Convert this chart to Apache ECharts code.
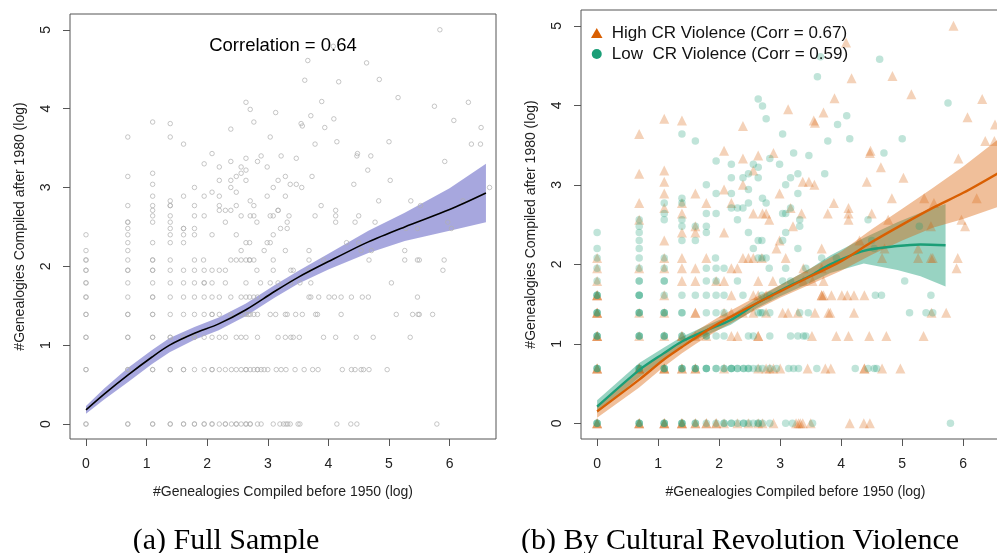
<!DOCTYPE html>
<html>
<head>
<meta charset="utf-8">
<script src="https://cdn.jsdelivr.net/npm/echarts@6/dist/echarts.min.js"></script>
<style>
html,body{margin:0;padding:0;background:#fff;}
#chart{width:997px;height:553px;}
</style>
</head>
<body>
<div id="chart"></div>
<script>
// ---------- tick labels ----------
const xTicks = [0, 1, 2, 3, 4, 5, 6];
const yTicks = [0, 1, 2, 3, 4, 5];

// ---------- scatter points [x, y, count] (log scale values) ----------
const highPts = [
[0,0,3],[0.69,0,3],[1.1,0,3],[1.39,0,3],[1.61,0,2],[1.79,0,2],[1.95,0,2],[2.08,0],[2.3,0],[2.48,0],[2.64,0],[2.71,0],[2.89,0],[3.26,0],[3.3,0],[3.33,0],[3.37,0],[3.5,0],[4.14,0],[4.37,0],[4.47,0],
[0,0.69,3],[0.69,0.69,3],[1.1,0.69,3],[1.39,0.69,2],[1.61,0.69,2],[2.08,0.69],[2.64,0.69],[2.77,0.69],[2.83,0.69],[2.89,0.69],[3.0,0.69],[3.45,0.69],[3.74,0.69],[3.83,0.69],[4.38,0.69,2],[4.67,0.69],[4.97,0.69],
[0,1.1,3],[0.69,1.1],[1.1,1.1],[1.39,1.1,2],[1.61,1.1],[1.79,1.1],[2.2,1.1],[2.3,1.1],[2.64,1.1,2],[3.52,1.1],[3.92,1.1],[4.12,1.1],[4.46,1.1],[4.74,1.1],[5.35,1.1],
[0,1.39,3],[0.69,1.39],[1.1,1.39],[1.61,1.39,2],[2.08,1.39],[2.2,1.39],[2.39,1.39],[2.56,1.39],[2.77,1.39],[3.04,1.39],[3.13,1.39],[3.29,1.39],[3.57,1.39],[3.79,1.39],[3.82,1.39],[4.21,1.39],[5.48,1.39],[5.72,1.39],
[0,1.61,3],[1.1,1.61],[2.2,1.61],[2.56,1.61],[2.64,1.61],[2.77,1.61],[3.68,1.61,2],[3.71,1.61],[3.84,1.61],[4.01,1.61],[4.1,1.61],[4.21,1.61],[4.38,1.61],
[0,1.79],[1.39,1.79],[1.61,1.79],[1.95,1.79],[2.08,1.79],[2.64,1.79],[2.88,1.79],[3.38,1.79],[3.53,1.79],[3.71,1.79],
[0,1.95],[0.69,1.95],[1.1,1.95],[1.39,1.95],[1.61,1.95],[2.2,1.95],[2.3,1.95],[3.38,1.95],[3.68,1.95],[5.89,1.95],
[0,2.08],[1.1,2.08],[1.39,2.08],[1.79,2.08],[2.39,2.08],[2.48,2.08],[2.56,2.08],[2.7,2.08],[3.09,2.08],[4.67,2.08],[5.26,2.08],[5.47,2.08],[5.5,2.08],[5.91,2.08],
[2.94,2.2],[3.68,2.2],[4.71,2.2],[5.26,2.2],
[1.1,2.3],[2.99,2.3],[4.3,2.3],
[1.39,2.4],[1.61,2.4],[2.08,2.4],
[1.61,2.48],[3.21,2.48],[5.47,2.48],[6.03,2.48],
[0.69,2.56],[2.82,2.56],[4.12,2.56],[4.77,2.56],[5.97,2.56],
[1.39,2.64],[2.56,2.64],[2.71,2.64],[2.77,2.64],[3.35,2.64],[3.78,2.64],[4.12,2.64],[4.5,2.64],
[1.1,2.71],[3.17,2.71],[4.12,2.71],
[0.69,2.77],[1.39,2.77],[1.79,2.77],[2.2,2.77],[3.88,2.77],[5.52,2.77],
[4.83,2.83],[5.36,2.83],[6.22,2.83],
[1.1,2.89],[1.61,2.89],[2.99,2.89],
[2.08,2.94],[2.39,3.0],[3.56,3.0],[6.66,3.0],[1.1,3.04],[3.37,3.04],[3.47,3.04],[4.42,3.04],[5.02,3.09],[0.69,3.14],[1.1,3.18],[2.56,3.18],[4.65,3.22],[2.39,3.33],[5.92,3.33],[2.64,3.37],[2.89,3.4],[4.47,3.4],[2.08,3.43],[4.48,3.43],[6.36,3.55],[6.51,3.55],[0.69,3.64],[2.39,3.74],[6.52,3.76],[3.57,3.78],[1.39,3.81],[3.55,3.81],[1.1,3.83],[6.07,3.85],[3.71,3.91],[3.13,3.95],[6.31,4.08],[3.89,4.09],[5.15,4.14],[4.17,4.34],[4.84,4.37],[4.08,4.79],[5.84,5.0]
];
const lowPts = [
[0,0,3],[0.69,0,3],[1.1,0,3],[1.39,0,3],[1.61,0,2],[1.79,0],[1.95,0],[2.08,0,2],[2.2,0,2],[2.3,0],[2.4,0,2],[2.48,0],[2.56,0],[2.64,0,2],[2.71,0],[2.83,0],[3.09,0],[3.2,0],[3.53,0],[5.79,0],
[0,0.69,3],[0.69,0.69,3],[1.1,0.69,3],[1.39,0.69,3],[1.61,0.69,3],[1.79,0.69,3],[1.95,0.69,2],[2.08,0.69,2],[2.2,0.69,3],[2.3,0.69,2],[2.4,0.69,2],[2.48,0.69,2],[2.56,0.69],[2.64,0.69],[2.71,0.69],[2.83,0.69],[2.94,0.69],[3.14,0.69],[3.22,0.69],[3.3,0.69],[3.6,0.69],[4.23,0.69],[4.44,0.69],[4.54,0.69],[4.58,0.69],
[0,1.1,3],[0.69,1.1,3],[1.1,1.1,3],[1.39,1.1,2],[1.79,1.1,2],[1.95,1.1],[2.08,1.1],[2.48,1.1],[2.56,1.1],[2.83,1.1],[3.17,1.1],[3.29,1.1],[3.38,1.1],[3.42,1.1],
[0,1.39,3],[0.69,1.39,3],[1.1,1.39,3],[1.39,1.39,2],[1.79,1.39],[1.95,1.39],[2.08,1.39],[2.64,1.39],[2.68,1.39],[2.71,1.39],[2.83,1.39],[3.32,1.39],[3.46,1.39],[5.12,1.39],[5.39,1.39],[5.5,1.39],
[0,1.61,3],[0.69,1.61,3],[1.1,1.61],[1.39,1.61],[1.61,1.61],[1.79,1.61],[1.95,1.61],[2.08,1.61],[2.39,1.61],[2.7,1.61],[2.83,1.61],[4.56,1.61],[4.66,1.61],[5.47,1.61],
[0,1.79],[0.69,1.79,2],[1.1,1.79,2],[1.79,1.79],[1.95,1.79],[2.3,1.79],[3.04,1.79],[3.17,1.79],[5.04,1.79],
[0,1.95],[0.69,1.95],[1.1,1.95],[1.79,1.95],[1.95,1.95],[2.08,1.95],[2.82,1.95],[3.09,1.95],[3.42,1.95],
[0,2.08],[0.69,2.08],[1.1,2.08],[1.94,2.08],[2.64,2.08],[2.7,2.08],[2.77,2.08],[3.68,2.08],[3.92,2.08],
[0,2.2],[0.69,2.2],[2.56,2.2],[3.29,2.2],[4.54,2.2],
[0.69,2.3],[1.39,2.3],[1.61,2.3],[2.64,2.3],[2.7,2.3],[3.04,2.3],[4.5,2.3],
[0,2.4],[0.69,2.4],[1.79,2.4],[2.48,2.4],[3.09,2.4],
[0.69,2.48],[1.39,2.48],[1.61,2.48],[1.79,2.48],[3.32,2.48],[5.28,2.48],
[0.69,2.56],[1.1,2.56],[1.39,2.56],[2.3,2.56],[3.32,2.56],[4.44,2.56],
[1.1,2.64],[1.79,2.64],[1.95,2.64],[3.04,2.64],[3.09,2.64],
[2.2,2.71],[2.3,2.71],[2.39,2.71],[3.17,2.71],
[1.1,2.77],[1.39,2.77],[2.48,2.77],[2.77,2.77],
[1.39,2.83],[2.71,2.83],
[1.95,2.89],[2.2,2.89],[3.29,2.89],
[2.48,2.94],[1.79,3.0],[3.09,3.0],[2.2,3.09],[2.39,3.09],[2.64,3.09],[3.17,3.09],[2.48,3.14],[3.29,3.14],[3.73,3.14],[2.64,3.22],[2.2,3.26],[2.56,3.26],[2.99,3.26],[1.95,3.3],[2.83,3.33],[3.47,3.37],[3.22,3.4],[4.7,3.4],[1.61,3.55],[3.78,3.55],[4.14,3.58],[5.0,3.58],[1.39,3.64],[3.04,3.64],[3.94,3.76],[2.77,3.83],[4.09,3.87],[2.71,3.99],[5.75,4.03],[2.64,4.08],[3.61,4.36],[4.63,4.58],[3.66,4.61]
];

// ---------- smoothed fit (full sample) ----------
const fullX     = [0, 0.3, 0.69, 1.09, 1.38, 1.79, 2.19, 2.64, 3.11, 3.5, 4.0, 4.66, 5.26, 6.0, 6.6];
const fullFit   = [0.18, 0.38, 0.62, 0.85, 1.0, 1.15, 1.27, 1.45, 1.68, 1.86, 2.06, 2.31, 2.5, 2.72, 2.93];
const fullUpper = [0.23, 0.45, 0.71, 0.94, 1.09, 1.23, 1.35, 1.53, 1.76, 1.94, 2.16, 2.45, 2.68, 2.99, 3.3];
const fullLower = [0.13, 0.31, 0.53, 0.76, 0.91, 1.07, 1.19, 1.37, 1.6, 1.78, 1.96, 2.17, 2.32, 2.45, 2.56];

// ---------- smoothed fit (high CR violence) ----------
const highX     = [0, 0.69, 1.09, 1.39, 1.64, 2.0, 2.51, 3.0, 3.5, 4.0, 4.5, 5.0, 5.5, 6.0, 6.6];
const highFit   = [0.15, 0.55, 0.8, 0.96, 1.09, 1.26, 1.47, 1.66, 1.85, 2.04, 2.28, 2.5, 2.71, 2.9, 3.16];
const highUpper = [0.23, 0.65, 0.89, 1.04, 1.17, 1.34, 1.55, 1.74, 1.95, 2.16, 2.44, 2.7, 2.96, 3.23, 3.59];
const highLower = [0.07, 0.45, 0.71, 0.88, 1.01, 1.18, 1.39, 1.58, 1.75, 1.92, 2.12, 2.3, 2.46, 2.57, 2.73];

// ---------- smoothed fit (low CR violence) ----------
const lowX      = [0, 0.69, 1.09, 1.39, 1.79, 2.19, 2.62, 3.0, 3.5, 3.82, 4.37, 4.92, 5.3, 5.71];
const lowFit    = [0.21, 0.67, 0.88, 1.03, 1.17, 1.3, 1.51, 1.67, 1.86, 2.0, 2.17, 2.23, 2.25, 2.24];
const lowUpper  = [0.29, 0.76, 0.95, 1.09, 1.23, 1.36, 1.57, 1.74, 1.95, 2.11, 2.33, 2.53, 2.65, 2.76];
const lowLower  = [0.13, 0.58, 0.81, 0.97, 1.11, 1.24, 1.45, 1.6, 1.77, 1.89, 2.01, 1.93, 1.85, 1.72];

const highName = 'High CR Violence (Corr = 0.67)';
const lowName  = 'Low  CR Violence (Corr = 0.59)';

// ---------- helpers that build library data ----------
function expand(pts) {
  const out = [];
  pts.forEach(p => { const n = p[2] || 1; for (let i = 0; i < n; i++) out.push([p[0], p[1]]); });
  return out;
}
function single(pts) { return pts.map(p => [p[0], p[1]]); }
function pairs(xs, ys) { return xs.map((x, i) => [x, ys[i]]); }

const SANS = '"Liberation Sans", Arial, sans-serif';
const AXC = '#555';

function makeX(gi, nameGap) {
  return {
    gridIndex: gi, type: 'value', min: -0.264, max: 6.766,
    axisLine: { show: false, onZero: false }, splitLine: { show: false },
    axisTick: { show: true, customValues: xTicks, length: 7, inside: false, lineStyle: { color: AXC, width: 1 } },
    axisLabel: { customValues: xTicks, margin: 18, fontSize: 14, color: '#222', fontFamily: SANS },
    name: '#Genealogies Compiled before 1950 (log)', nameLocation: 'middle', nameGap: nameGap,
    nameMoveOverlap: false,
    nameTextStyle: { fontSize: 14, color: '#222', fontFamily: SANS }
  };
}
function makeY(gi, min, max) {
  return {
    gridIndex: gi, type: 'value', min: min, max: max,
    axisLine: { show: false, onZero: false }, splitLine: { show: false },
    axisTick: { show: true, customValues: yTicks, length: 7, inside: false, lineStyle: { color: AXC, width: 1 } },
    axisLabel: { customValues: yTicks, margin: 17, rotate: 90, fontSize: 14, color: '#222', fontFamily: SANS },
    name: '#Genealogies Compiled after 1980 (log)', nameLocation: 'middle', nameGap: 43, nameRotate: 90,
    nameMoveOverlap: false,
    nameTextStyle: { fontSize: 14, color: '#222', fontFamily: SANS }
  };
}

// confidence band drawn as one polygon through the axes' own coordinate mapping
function band(xi, yi, xs, up, lo, color) {
  return {
    type: 'custom', xAxisIndex: xi, yAxisIndex: yi, silent: true, clip: true,
    data: [[xs[0], up[0]]],
    renderItem: function (params, api) {
      const pts = [];
      for (let i = 0; i < xs.length; i++) pts.push(api.coord([xs[i], up[i]]));
      for (let i = xs.length - 1; i >= 0; i--) pts.push(api.coord([xs[i], lo[i]]));
      return { type: 'polygon', shape: { points: pts }, style: { fill: color, stroke: null } };
    }
  };
}

const allPts = single(highPts).concat(single(lowPts));

const option = {
  animation: false,
  backgroundColor: '#fff',
  grid: [
    { left: 70, top: 14, width: 426, height: 425, show: true, borderColor: AXC, borderWidth: 1, backgroundColor: 'transparent', outerBoundsMode: 'none', containLabel: false },
    { left: 581, top: 10, width: 429, height: 429, show: true, borderColor: AXC, borderWidth: 1, backgroundColor: 'transparent', outerBoundsMode: 'none', containLabel: false }
  ],
  xAxis: [ makeX(0, 46), makeX(1, 46) ],
  yAxis: [ makeY(0, -0.19, 5.2), makeY(1, -0.197, 5.199) ],
  legend: {
    orient: 'vertical', left: 591, top: 24.5, padding: 0, itemWidth: 20, itemHeight: 10, itemGap: 4,
    selectedMode: false,
    textStyle: { fontSize: 17, color: '#111', fontFamily: SANS, lineHeight: 17 },
    itemStyle: { opacity: 1 },
    data: [
      { name: highName, icon: 'path://M5,0L10,8.7L0,8.7Z', itemStyle: { color: '#D95F02', opacity: 1 } },
      { name: lowName, icon: 'circle', itemStyle: { color: '#1B9E77', opacity: 1 } }
    ]
  },
  series: [
    // ----- panel (a) -----
    { type: 'scatter', xAxisIndex: 0, yAxisIndex: 0, data: allPts, symbol: 'circle', symbolSize: 4.5,
      itemStyle: { color: 'rgba(0,0,0,0)', borderColor: '#b0b0b0', borderWidth: 0.9 }, silent: true },
    band(0, 0, fullX, fullUpper, fullLower, 'rgba(95,95,195,0.55)'),
    { type: 'line', xAxisIndex: 0, yAxisIndex: 0, data: pairs(fullX, fullFit), symbol: 'none',
      smooth: 0.3, lineStyle: { color: '#000', width: 1.6 }, silent: true },
    // ----- panel (b) -----
    { name: highName, type: 'scatter', xAxisIndex: 1, yAxisIndex: 1, data: expand(highPts), symbol: 'triangle', symbolSize: 10,
      itemStyle: { color: '#D95F02', opacity: 0.28 }, silent: true },
    { name: lowName, type: 'scatter', xAxisIndex: 1, yAxisIndex: 1, data: expand(lowPts), symbol: 'circle', symbolSize: 7.5,
      itemStyle: { color: '#1B9E77', opacity: 0.28 }, silent: true },
    band(1, 1, lowX, lowUpper, lowLower, 'rgba(27,158,119,0.45)'),
    band(1, 1, highX, highUpper, highLower, 'rgba(217,95,2,0.4)'),
    { type: 'line', xAxisIndex: 1, yAxisIndex: 1, data: pairs(lowX, lowFit), symbol: 'none',
      smooth: 0.3, lineStyle: { color: '#1B9E77', width: 2.4 }, silent: true },
    { type: 'line', xAxisIndex: 1, yAxisIndex: 1, data: pairs(highX, highFit), symbol: 'none',
      smooth: 0.3, lineStyle: { color: '#D95F02', width: 2.4 }, silent: true }
  ],
  graphic: [
    { type: 'text', x: 283, y: 46, silent: true,
      style: { text: 'Correlation = 0.64', font: '18.5px "Liberation Sans", Arial, sans-serif', fill: '#000',
               align: 'center', verticalAlign: 'middle', textAlign: 'center', textVerticalAlign: 'middle' } },
    { type: 'text', x: 226, y: 541, silent: true,
      style: { text: '(a) Full Sample', font: '30px "Liberation Serif", "Times New Roman", serif', fill: '#000',
               align: 'center', verticalAlign: 'middle', textAlign: 'center', textVerticalAlign: 'middle' } },
    { type: 'text', x: 740, y: 541, silent: true,
      style: { text: '(b) By Cultural Revolution Violence', font: '30px "Liberation Serif", "Times New Roman", serif', fill: '#000',
               align: 'center', verticalAlign: 'middle', textAlign: 'center', textVerticalAlign: 'middle' } }
  ]
};

const chart = echarts.init(document.getElementById('chart'), null, { renderer: 'canvas', width: 997, height: 553 });
chart.setOption(option);
</script>
</body>
</html>
